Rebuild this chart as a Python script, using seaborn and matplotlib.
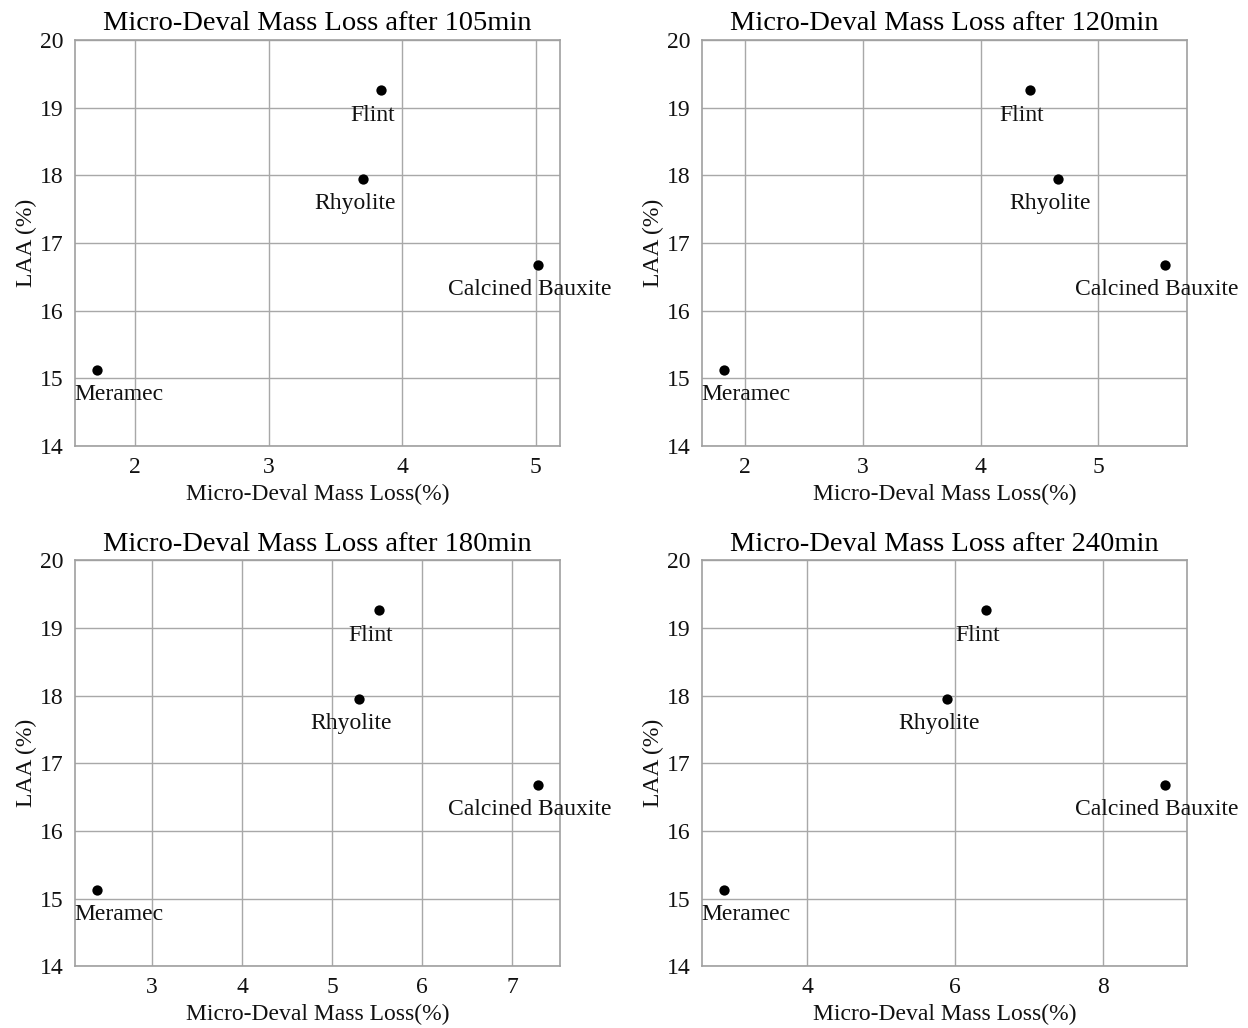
import matplotlib
matplotlib.use("Agg")
import matplotlib.pyplot as plt
import seaborn as sns
import pandas as pd

aggregates = ["Flint", "Rhyolite", "Calcined Bauxite", "Meramec"]
laa = [19.26, 17.95, 16.68, 15.13]
mdl_105 = [3.84, 3.71, 5.02, 1.715]
mdl_120 = [4.42, 4.66, 5.57, 1.82]
mdl_180 = [5.52, 5.30, 7.29, 2.39]
mdl_240 = [6.42, 5.89, 8.84, 2.88]
times = ["105", "120", "180", "240"]
xticks_105 = [2, 3, 4, 5]
xticks_120 = [2, 3, 4, 5]
xticks_180 = [3, 4, 5, 6, 7]
xticks_240 = [4, 6, 8]
yticks = [14, 15, 16, 17, 18, 19, 20]

sns.set_theme(style="whitegrid")
plt.rcParams["font.family"] = ["Liberation Serif", "DejaVu Serif"]

fig = plt.figure(figsize=(12.48, 10.28), dpi=100)
positions = [
    [0.060, 0.566, 0.389, 0.395],
    [0.5625, 0.566, 0.389, 0.395],
    [0.060, 0.060, 0.389, 0.395],
    [0.5625, 0.060, 0.389, 0.395],
]
series = [mdl_105, mdl_120, mdl_180, mdl_240]
xtick_sets = [xticks_105, xticks_120, xticks_180, xticks_240]
label_offsets = {
    "Flint": (-6, -18),
    "Rhyolite": (-6, -18),
    "Calcined Bauxite": (-6, -18),
    "Meramec": (16, -18),
}

for pos, xs, t, xt in zip(positions, series, times, xtick_sets):
    ax = fig.add_axes(pos)
    df = pd.DataFrame({"x": xs, "y": laa, "name": aggregates})
    sns.scatterplot(data=df, x="x", y="y", ax=ax, color="black", s=55,
                    edgecolor="black", linewidth=0, zorder=3)
    ax.set_ylim(14, 20)
    ax.set_yticks(yticks)
    ax.margins(x=0.05)
    ax.set_xticks(xt)
    for _, r in df.iterrows():
        dx, dy = label_offsets[r["name"]]
        ax.annotate(r["name"], (r["x"], r["y"]), xytext=(dx, dy),
                    textcoords="offset points", ha="center", va="center",
                    fontsize=17, color="#111111", annotation_clip=False)
    ax.set_title(f"Micro-Deval Mass Loss after {t}min", fontsize=20.5, pad=7,
                 color="black")
    ax.set_xlabel("Micro-Deval Mass Loss(%)", fontsize=17, labelpad=4,
                  color="#111111")
    ax.set_ylabel("LAA (%)", fontsize=17, labelpad=2, color="#111111")
    ax.tick_params(axis="both", labelsize=17, colors="#111111", length=0, pad=8)
    ax.grid(True, color="#a8a8a8", linewidth=1.0)
    for sp in ax.spines.values():
        sp.set_color("#a0a0a0")
        sp.set_linewidth(1.2)
    ax.set_facecolor("white")

fig.savefig("out.png", dpi=100, facecolor="white")
